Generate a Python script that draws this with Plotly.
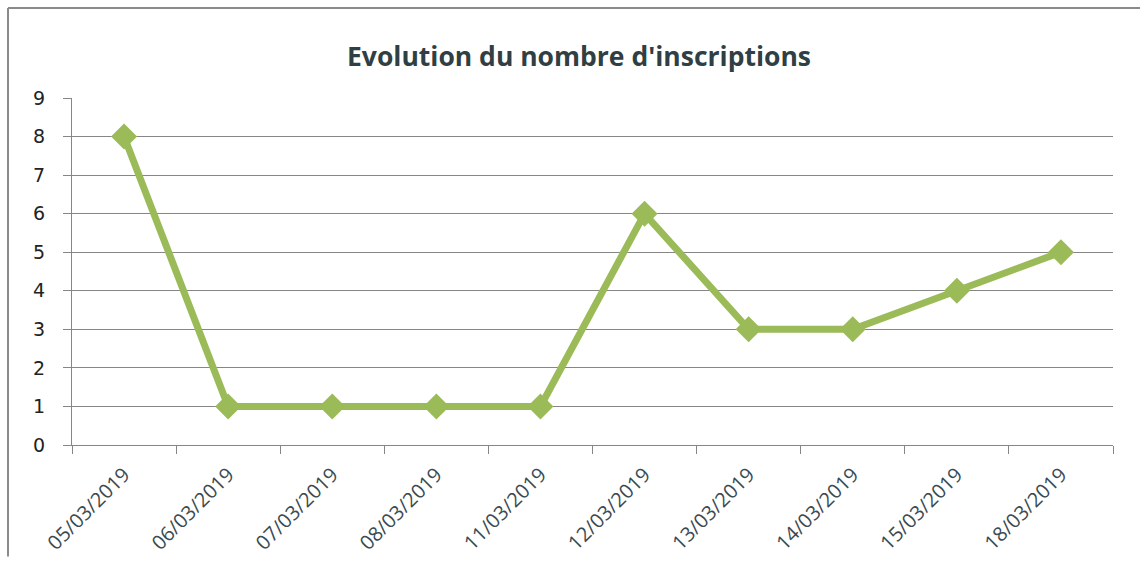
import plotly.graph_objects as go

dates = ["05/03/2019", "06/03/2019", "07/03/2019", "08/03/2019", "11/03/2019",
         "12/03/2019", "13/03/2019", "14/03/2019", "15/03/2019", "18/03/2019"]
inscriptions = [8, 1, 1, 1, 1, 6, 3, 3, 4, 5]
y_ticks = list(range(0, 10))

W, H = 1140, 567
L, R, T, B = 72, 27, 98, 114
pw, ph = W - L - R, H - T - B

fig = go.Figure()
fig.add_trace(go.Scatter(
    x=dates, y=inscriptions, mode="lines+markers",
    line=dict(color="#9bbb59", width=7),
    marker=dict(symbol="diamond", size=20, color="#9bbb59"),
    showlegend=False,
))

fig.update_layout(
    width=W, height=H,
    margin=dict(l=L, r=R, t=T, b=B),
    paper_bgcolor="white", plot_bgcolor="white",
    title=dict(text="Evolution du nombre d'inscriptions", x=579 / W, xanchor="center",
               y=1 - 57 / H, yanchor="middle",
               font=dict(family="Open Sans", size=26.5, color="#2f3f44", weight="bold")),
    xaxis=dict(type="category", range=[-0.5, 9.5], tickson="boundaries",
               showgrid=False, showline=True, linecolor="#868686", linewidth=1,
               ticks="outside", ticklen=8, tickcolor="#868686",
               tickangle=-45, ticklabelstandoff=9,
               tickfont=dict(family="Open Sans", size=20, color="#3b4a50")),
    yaxis=dict(range=[0, 9], tickvals=y_ticks, showgrid=True, gridcolor="#868686",
               gridwidth=1, showline=True, linecolor="#868686", linewidth=1,
               ticks="outside", ticklen=8, tickcolor="#868686", zeroline=False,
               ticklabelstandoff=14,
               tickfont=dict(family="DejaVu Sans", size=19, color="#222222")),
    shapes=[
        dict(type="line", xref="paper", yref="paper",
             x0=(8 - L) / pw, x1=(8 - L) / pw, y0=1 + (T - 6) / ph, y1=-(B) / ph,
             line=dict(color="#8a8a8a", width=2)),
        dict(type="line", xref="paper", yref="paper",
             x0=(8 - L) / pw, x1=(W - L) / pw, y0=1 + (T - 6) / ph, y1=1 + (T - 6) / ph,
             line=dict(color="#8a8a8a", width=2)),
    ],
)

fig.write_html("out.html", config={"displayModeBar": False},
               post_script="document.body.style.margin='0';document.body.style.overflow='hidden';")
